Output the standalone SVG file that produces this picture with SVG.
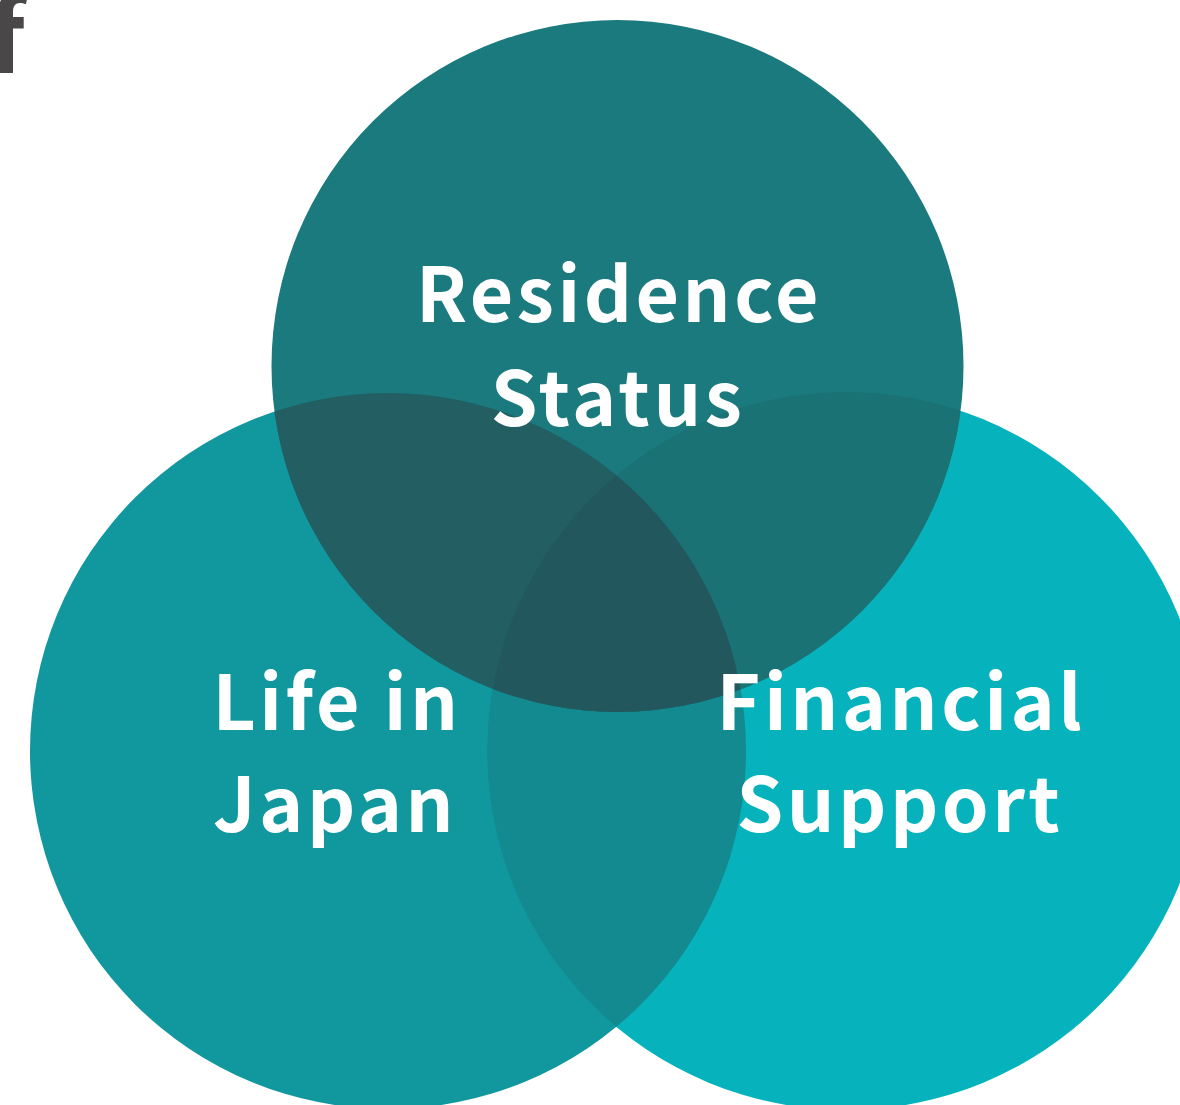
<svg xmlns="http://www.w3.org/2000/svg" width="1180" height="1105" viewBox="0 0 1180 1105">
<style>
.lbl{font-family:"Noto Sans CJK JP","Noto Sans",sans-serif;font-weight:700;font-size:75px;fill:#ffffff;text-anchor:middle;letter-spacing:3.5px}
</style>
<defs>
<clipPath id="cL"><circle cx="388" cy="751" r="358"/></clipPath>
<clipPath id="cR"><circle cx="846" cy="751" r="359"/></clipPath>
</defs>
<rect width="1180" height="1105" fill="#ffffff"/>
<text x="-12" y="73" style="font-family:'Noto Sans CJK JP','Noto Sans',sans-serif;font-weight:700;font-size:100px;fill:#4a4748">f</text>
<g id="life-in-japan">
<circle cx="388" cy="751" r="358" fill="#11979e"/>
</g>
<g id="financial-support">
<circle cx="846" cy="751" r="359" fill="#06b3bc"/>
<circle cx="846" cy="751" r="359" fill="#128a8f" clip-path="url(#cL)"/>
</g>
<g id="residence-status">
<circle cx="617.5" cy="366" r="346" fill="#1a7a7e"/>
<circle cx="617.5" cy="366" r="346" fill="#225e62" clip-path="url(#cL)"/>
<circle cx="617.5" cy="366" r="346" fill="#1a7275" clip-path="url(#cR)"/>
<g clip-path="url(#cL)"><circle cx="617.5" cy="366" r="346" fill="#22585d" clip-path="url(#cR)"/></g>
</g>
<g id="connectors"></g>
<g id="labels">
<text class="lbl" x="619" y="322">Residence</text>
<text class="lbl" x="618" y="426">Status</text>
<text class="lbl" x="337" y="730">Life in</text>
<text class="lbl" x="335" y="832">Japan</text>
<text class="lbl" x="901" y="730">Financial</text>
<text class="lbl" x="900" y="832">Support</text>
</g>
</svg>
